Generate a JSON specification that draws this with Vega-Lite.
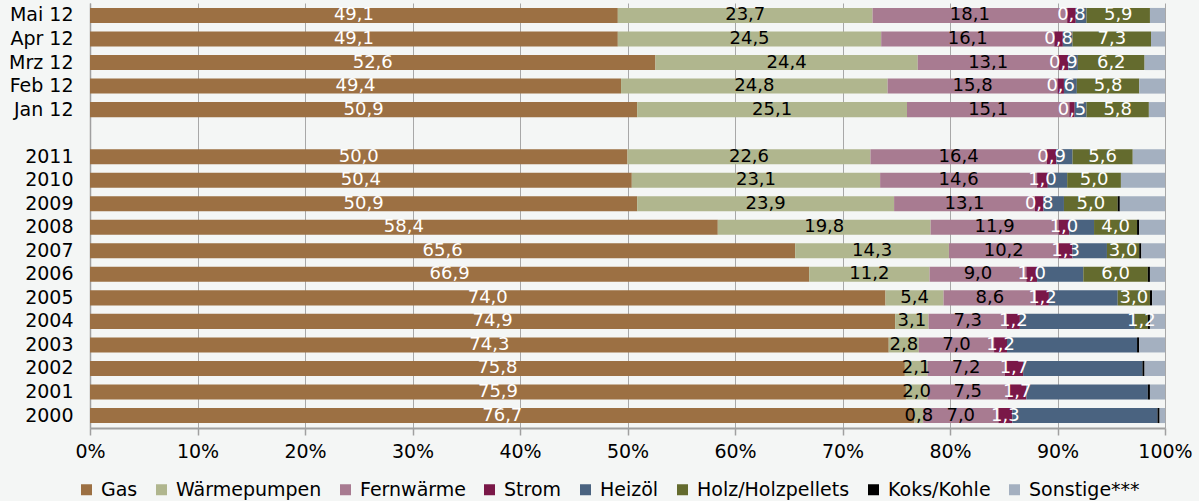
{
  "$schema": "https://vega.github.io/schema/vega-lite/v6.json",
  "width": 1075,
  "height": 425,
  "autosize": {"type": "none"},
  "padding": {"left": 90, "top": 3, "right": 34, "bottom": 73},
  "background": "#f4f6f5",
  "config": {
    "view": {"stroke": null},
    "font": "DejaVu Sans",
    "locale": {"number": {"decimal": ",", "thousands": ".", "grouping": [3], "currency": ["", " €"]}}
  },
  "datasets": {
    "series": [
      {"k": "Gas", "name": "Gas", "n": 1},
      {"k": "WP", "name": "Wärmepumpen", "n": 2},
      {"k": "FW", "name": "Fernwärme", "n": 3},
      {"k": "Strom", "name": "Strom", "n": 4},
      {"k": "Oel", "name": "Heizöl", "n": 5},
      {"k": "Holz", "name": "Holz/Holzpellets", "n": 6},
      {"k": "Koks", "name": "Koks/Kohle", "n": 7},
      {"k": "Sonst", "name": "Sonstige***", "n": 8}
    ]
  },
  "data": {
    "values": [
      {"p": "Mai 12", "Gas": 49.1, "WP": 23.7, "FW": 18.1, "Strom": 0.8, "Oel": 1.0, "Holz": 5.9, "Koks": 0, "Sonst": 1.4},
      {"p": "Apr 12", "Gas": 49.1, "WP": 24.5, "FW": 16.1, "Strom": 0.8, "Oel": 0.9, "Holz": 7.3, "Koks": 0, "Sonst": 1.3},
      {"p": "Mrz 12", "Gas": 52.6, "WP": 24.4, "FW": 13.1, "Strom": 0.9, "Oel": 0.9, "Holz": 6.2, "Koks": 0, "Sonst": 1.9},
      {"p": "Feb 12", "Gas": 49.4, "WP": 24.8, "FW": 15.8, "Strom": 0.6, "Oel": 1.2, "Holz": 5.8, "Koks": 0, "Sonst": 2.4},
      {"p": "Jan 12", "Gas": 50.9, "WP": 25.1, "FW": 15.1, "Strom": 0.5, "Oel": 1.1, "Holz": 5.8, "Koks": 0, "Sonst": 1.5},
      {"p": "2011", "Gas": 50.0, "WP": 22.6, "FW": 16.4, "Strom": 0.9, "Oel": 1.5, "Holz": 5.6, "Koks": 0, "Sonst": 3.0},
      {"p": "2010", "Gas": 50.4, "WP": 23.1, "FW": 14.6, "Strom": 1.0, "Oel": 1.8, "Holz": 5.0, "Koks": 0, "Sonst": 4.1},
      {"p": "2009", "Gas": 50.9, "WP": 23.9, "FW": 13.1, "Strom": 0.8, "Oel": 1.9, "Holz": 5.0, "Koks": 0.2, "Sonst": 4.2},
      {"p": "2008", "Gas": 58.4, "WP": 19.8, "FW": 11.9, "Strom": 1.0, "Oel": 2.3, "Holz": 4.0, "Koks": 0.2, "Sonst": 2.4},
      {"p": "2007", "Gas": 65.6, "WP": 14.3, "FW": 10.2, "Strom": 1.3, "Oel": 3.2, "Holz": 3.0, "Koks": 0.2, "Sonst": 2.2},
      {"p": "2006", "Gas": 66.9, "WP": 11.2, "FW": 9.0, "Strom": 1.0, "Oel": 4.3, "Holz": 6.0, "Koks": 0.2, "Sonst": 1.4},
      {"p": "2005", "Gas": 74.0, "WP": 5.4, "FW": 8.6, "Strom": 1.2, "Oel": 6.4, "Holz": 3.0, "Koks": 0.2, "Sonst": 1.2},
      {"p": "2004", "Gas": 74.9, "WP": 3.1, "FW": 7.3, "Strom": 1.2, "Oel": 10.7, "Holz": 1.2, "Koks": 0.2, "Sonst": 1.4},
      {"p": "2003", "Gas": 74.3, "WP": 2.8, "FW": 7.0, "Strom": 1.2, "Oel": 12.1, "Holz": 0, "Koks": 0.2, "Sonst": 2.4},
      {"p": "2002", "Gas": 75.8, "WP": 2.1, "FW": 7.2, "Strom": 1.7, "Oel": 11.1, "Holz": 0, "Koks": 0.2, "Sonst": 1.9},
      {"p": "2001", "Gas": 75.9, "WP": 2.0, "FW": 7.5, "Strom": 1.7, "Oel": 11.3, "Holz": 0, "Koks": 0.2, "Sonst": 1.4},
      {"p": "2000", "Gas": 76.7, "WP": 0.8, "FW": 7.0, "Strom": 1.3, "Oel": 13.5, "Holz": 0, "Koks": 0.2, "Sonst": 0.5}
    ]
  },
  "transform": [
    {"fold": ["Gas", "WP", "FW", "Strom", "Oel", "Holz", "Koks", "Sonst"], "as": ["k", "v"]},
    {"lookup": "k", "from": {"data": {"name": "series"}, "key": "k", "fields": ["name", "n"]}},
    {"stack": "v", "groupby": ["p"], "sort": [{"field": "n", "order": "ascending"}], "as": ["v0", "v1"]}
  ],
  "encoding": {
    "y": {
      "field": "p",
      "type": "nominal",
      "scale": {
        "domain": ["Mai 12", "Apr 12", "Mrz 12", "Feb 12", "Jan 12", " ", "2011", "2010", "2009", "2008", "2007", "2006", "2005", "2004", "2003", "2002", "2001", "2000"],
        "paddingInner": 0.36,
        "paddingOuter": 0.21
      },
      "axis": {
        "title": null,
        "ticks": false,
        "labelFontSize": 19,
        "labelColor": "#000000",
        "labelPadding": 17,
        "domainColor": "#a0a0a0",
        "domainWidth": 1.5,
        "grid": false
      }
    }
  },
  "layer": [
    {
      "mark": {"type": "bar"},
      "encoding": {
        "x": {
          "field": "v0",
          "type": "quantitative",
          "scale": {"domain": [0, 100], "nice": false},
          "axis": {
            "title": null,
            "values": [0, 10, 20, 30, 40, 50, 60, 70, 80, 90, 100],
            "labelExpr": "datum.value + '%'",
            "labelFontSize": 19,
            "labelColor": "#000000",
            "labelPadding": 7,
            "tickColor": "#a0a0a0",
            "tickSize": 7,
            "tickWidth": 1.5,
            "domainColor": "#a0a0a0",
            "domainWidth": 2,
            "grid": true,
            "gridColor": "#a8a8a8",
            "gridWidth": 1,
            "labelFlush": false
          }
        },
        "x2": {"field": "v1"},
        "color": {
          "field": "name",
          "type": "nominal",
          "scale": {
            "domain": ["Gas", "Wärmepumpen", "Fernwärme", "Strom", "Heizöl", "Holz/Holzpellets", "Koks/Kohle", "Sonstige***"],
            "range": ["#9c7043", "#b0b68e", "#a87b91", "#7a1848", "#4a6380", "#646b2e", "#000000", "#a4b0c0"]
          },
          "legend": {
            "title": null,
            "orient": "none",
            "direction": "horizontal",
            "legendX": -13,
            "legendY": 477,
            "symbolType": "square",
            "symbolSize": 121,
            "symbolStrokeWidth": 0,
            "labelFontSize": 19,
            "labelColor": "#000000",
            "labelOffset": 5,
            "columnPadding": 14
          }
        }
      }
    },
    {
      "transform": [
        {"filter": "indexof(['Gas','WP','FW','Strom','Holz'], datum.k) >= 0 && datum.v > 0"},
        {"calculate": "(datum.v0 + datum.v1) / 2", "as": "mid"}
      ],
      "mark": {"type": "text", "fontSize": 18, "baseline": "middle", "align": "center"},
      "encoding": {
        "x": {"field": "mid", "type": "quantitative"},
        "text": {"field": "v", "type": "quantitative", "format": ".1f"},
        "color": {
          "condition": {"test": "datum.k === 'WP' || datum.k === 'FW'", "value": "#000000"},
          "value": "#ffffff"
        }
      }
    }
  ]
}
